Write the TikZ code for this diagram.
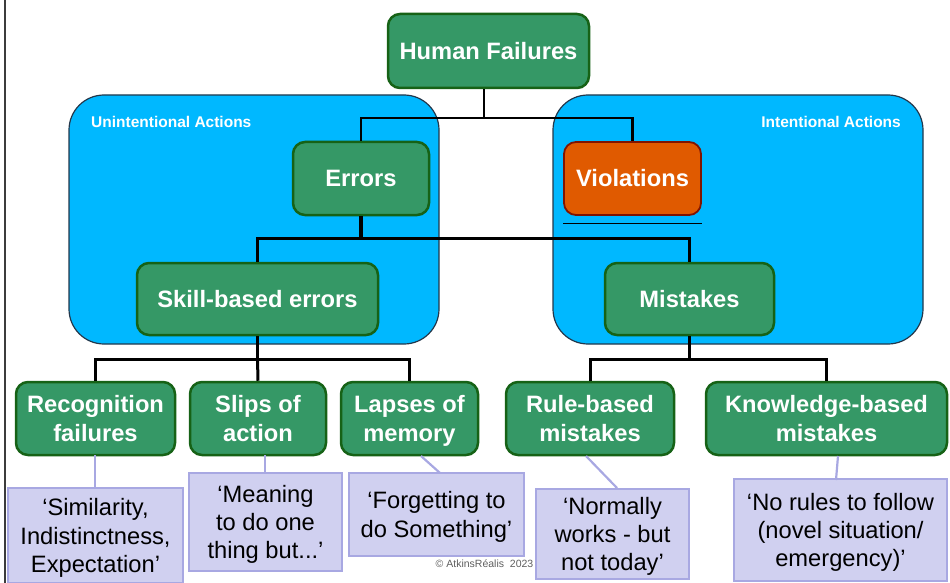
\documentclass[tikz,border=0pt]{standalone}
\usepackage{fontspec}
\setmainfont{Liberation Sans}
\definecolor{boxgreen}{RGB}{53,152,102}
\definecolor{boxgreenline}{RGB}{22,98,22}
\definecolor{vioorange}{RGB}{224,90,0}
\definecolor{viored}{RGB}{128,20,0}
\definecolor{zoneblue}{RGB}{0,184,255}
\definecolor{zoneline}{RGB}{35,55,75}
\definecolor{notefill}{RGB}{208,208,240}
\definecolor{noteline}{RGB}{168,168,226}
\definecolor{copygray}{RGB}{95,95,95}
% last line of a label: keep its descenders out of the vertical centring
\newcommand{\lastln}[1]{\raisebox{0pt}[\height][0pt]{#1}}
\tikzset{
  gbox/.style={draw=boxgreenline, fill=boxgreen, line width=2.5pt, rounded corners=12pt,
    text=white, align=center, inner sep=0pt,
    font=\fontsize{23.7}{28.3}\selectfont\bfseries},
  obox/.style={gbox, draw=viored, fill=vioorange, line width=1.8pt},
  note/.style={draw=noteline, fill=notefill, line width=2.2pt, text=black, align=center,
    inner sep=0pt, font=\fontsize{23.7}{28.3}\selectfont},
  zone/.style={draw=zoneline, fill=zoneblue, line width=1.2pt, rounded corners=35pt},
  zonelabel/.style={text=white, inner sep=0pt, font=\fontsize{15.5}{18}\selectfont\bfseries},
  tree/.style={draw=black, line width=3pt},
  notelink/.style={draw=noteline, line width=2.2pt}
}
\begin{document}
\begin{tikzpicture}[x=1pt, y=-1pt]
\useasboundingbox (0,0) rectangle (950,583);
\clip (0,0) rectangle (950,583);

% page frame on the left
\draw[line width=2pt, draw={rgb,255:red,60;green,60;blue,60}] (5,0) -- (5,583);

% action zones
\draw[zone] (69,95) rectangle (439,344);
\draw[zone] (553,95) rectangle (923,344);
\node[zonelabel, anchor=west] (unint) at (91,122) {Unintentional Actions};
\node[zonelabel, anchor=east] (intent) at (901,122) {Intentional Actions};

% tree nodes
\node[gbox, minimum width=201pt, minimum height=74pt] (hf) at (488.5,51) {Human Failures};
\node[gbox, minimum width=136pt, minimum height=73pt] (err) at (361,178.5) {Errors};
\node[obox, minimum width=137pt, minimum height=73pt] (vio) at (632.5,178.5) {Violations};
\node[gbox, minimum width=241pt, minimum height=72pt] (skill) at (257.5,299) {Skill-based errors};
\node[gbox, minimum width=169pt, minimum height=72pt] (mist) at (689.5,299) {Mistakes};

\node[gbox, minimum width=159pt, minimum height=73pt] (recog) at (95.5,418.5) {Recognition\\failures};
\node[gbox, minimum width=136pt, minimum height=73pt] (slips) at (258,418.5) {Slips of\\action};
\node[gbox, minimum width=137pt, minimum height=73pt] (lapse) at (409.5,418.5) {Lapses of\\\lastln{memory}};
\node[gbox, minimum width=168pt, minimum height=73pt] (rule) at (590,418.5) {Rule-based\\mistakes};
\node[gbox, minimum width=241pt, minimum height=73pt] (know) at (826.5,418.5) {Knowledge-based\\mistakes};

% underline beneath Violations
\draw[line width=1.8pt] ([yshift=-7.5pt]vio.south west) -- ([yshift=-7.5pt]vio.south east);

% tree connectors
\coordinate (j1) at (484,118);
\draw[tree, line width=2.5pt] (hf.south -| j1) -- (j1);
\draw[tree, line width=2.5pt] (err.north) |- (j1) -| (vio.north);
\coordinate (j2) at (361,238.5);
\draw[tree, line width=3.6pt] (err.south) -- (j2);
\draw[tree, line width=3.6pt] (skill.north) |- (j2) -| (mist.north);
\coordinate (j3) at (257.5,359);
\draw[tree] (skill.south) -- (j3);
\draw[tree] (recog.north) |- (j3) -| (lapse.north);
\draw[tree] (j3) -- (slips.north);
\coordinate (j4) at (689.5,359);
\draw[tree] (mist.south) -- (j4);
\draw[tree] (rule.north) |- (j4) -| (know.north);

% example notes
\node[note, minimum width=175pt, minimum height=95pt] (n1) at (95.5,535.5) {‘Similarity,\\Indistinctness,\\\lastln{Expectation’}};
\node[note, minimum width=153pt, minimum height=98pt] (n2) at (265.5,522) {‘Meaning\\to do one\\\lastln{thing but...’}};
\node[note, minimum width=175pt, minimum height=83pt] (n3) at (436.5,514.5) {‘Forgetting to\\\lastln{do Something’}};
\node[note, minimum width=153pt, minimum height=90pt] (n4) at (612.5,534) {‘Normally\\works - but\\\lastln{not today’}};
\node[note, minimum width=213pt, minimum height=102pt] (n5) at (840.5,530) {‘No rules to follow\\(novel situation/\\\lastln{emergency)’}};

% note links
\coordinate (r1) at (95,455);
\coordinate (r2) at (265,455);
\coordinate (r3) at (421,456);
\coordinate (r4) at (586,456);
\coordinate (r5) at (838,456);
\draw[notelink] (r1) -- (r1 |- n1.north);
\draw[notelink] (r2) -- (r2 |- n2.north);
\draw[notelink] (r3) -- (440,473);
\draw[notelink] (r4) -- (617,488);
\draw[notelink] (r5) -- (836,480);

% copyright line
\node[text=copygray, inner sep=0pt, font=\fontsize{10.5}{12}\selectfont] (copy) at (484.5,564) {© AtkinsRéalis\ \ 2023};
\end{tikzpicture}
\end{document}
